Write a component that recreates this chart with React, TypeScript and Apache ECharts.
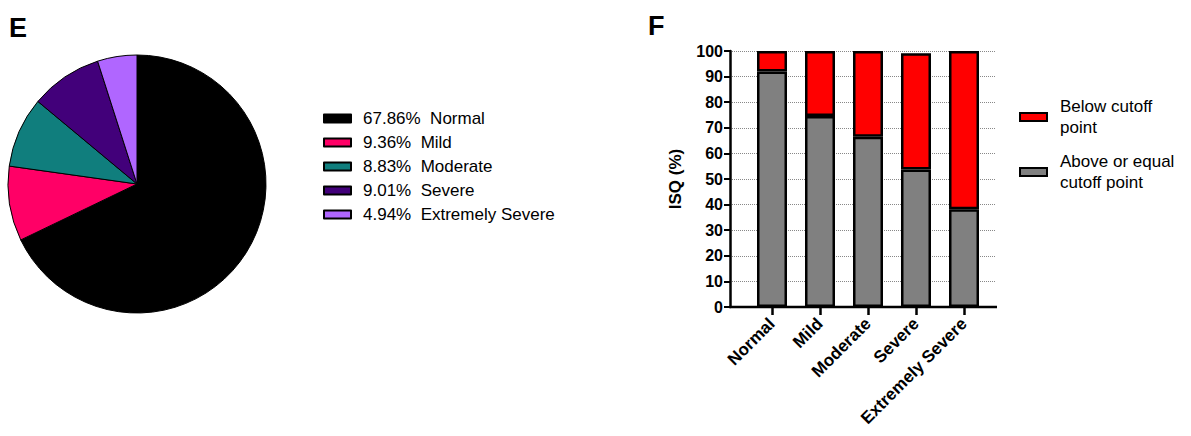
import React, { useEffect, useRef } from "react";
import * as echarts from "echarts";

const pieNames = ["Normal", "Mild", "Moderate", "Severe", "Extremely Severe"];
const pieValues = [67.86, 9.36, 8.83, 9.01, 4.94];
const pieColors = ["#000000", "#FF0066", "#107E7D", "#42007A", "#B066FF"];

const barCategories = ["Normal", "Mild", "Moderate", "Severe", "Extremely Severe"];
const aboveValues = [92, 74.6, 66.5, 53.7, 38.2];
const belowValues = [8, 25.4, 33.5, 45.4, 61.8];
const yTicks = { min: 0, max: 100, interval: 10 };

const FONT = "Arial, 'Liberation Sans', sans-serif";

export default function App() {
  const ref = useRef<HTMLDivElement>(null);
  useEffect(() => {
    document.body.style.margin = "0";
    if (!ref.current) return;
    const chart = echarts.init(ref.current, null, { renderer: "svg" });
    const pctMap: Record<string, string> = {};
    pieNames.forEach((n, i) => (pctMap[n] = pieValues[i].toFixed(2) + "%  " + n));
    chart.setOption({
      animation: false,
      backgroundColor: "#ffffff",
      textStyle: { fontFamily: FONT },
      graphic: [
        { type: "text", left: 9, top: 14, style: { text: "E", font: `bold 27px ${FONT}`, fill: "#000" } },
        { type: "text", left: 648, top: 12, style: { text: "F", font: `bold 27px ${FONT}`, fill: "#000" } },
        {
          type: "line",
          shape: { x1: 729, y1: 307, x2: 997, y2: 307 },
          style: { stroke: "#000", lineWidth: 2.5 },
          z: 10,
        },
      ],
      legend: [
        {
          data: pieNames,
          orient: "vertical",
          left: 318,
          top: 104,
          itemWidth: 27,
          itemHeight: 8,
          itemGap: 5,
          formatter: (n: string) => pctMap[n],
          textStyle: { fontSize: 17, color: "#000", fontFamily: FONT, lineHeight: 19, padding: [0, 0, 0, 7] },
          selectedMode: false,
          icon: "rect",
        },
        {
          data: ["Below cutoff point", "Above or equal cutoff point"],
          orient: "vertical",
          left: 1014,
          top: 91,
          itemWidth: 27,
          itemHeight: 8,
          itemGap: 13,
          formatter: (n: string) =>
            n === "Below cutoff point" ? "Below cutoff\npoint" : "Above or equal\ncutoff point",
          textStyle: { fontSize: 17, color: "#000", fontFamily: FONT, lineHeight: 21, padding: [0, 0, 0, 8] },
          selectedMode: false,
          icon: "rect",
        },
      ],
      grid: [
        { left: 748, right: 1191 - 988, top: 51, bottom: 436 - 307, containLabel: false },
        { left: 730, right: 1191 - 996, top: 51, bottom: 436 - 307, containLabel: false },
      ],
      xAxis: [
        {
          type: "category",
          gridIndex: 0,
          data: barCategories,
          axisLine: { show: false },
          axisTick: { show: true, alignWithLabel: true, length: 8, lineStyle: { color: "#000", width: 2.5 } },
          axisLabel: { rotate: 45, fontSize: 17, fontWeight: "bold", color: "#000", margin: 14, interval: 0, fontFamily: FONT },
        },
        { type: "value", gridIndex: 1, show: false, min: 0, max: 1 },
      ],
      yAxis: [
        {
          type: "value",
          gridIndex: 0,
          min: yTicks.min,
          max: yTicks.max,
          interval: yTicks.interval,
          offset: 18,
          name: "ISQ (%)",
          nameLocation: "middle",
          nameRotate: 90,
          nameGap: 46,
          nameTextStyle: { fontSize: 17, fontWeight: "bold", color: "#000", fontFamily: FONT },
          axisLine: { show: true, lineStyle: { color: "#000", width: 2.5 } },
          axisTick: { show: true, length: 6, lineStyle: { color: "#000", width: 2 } },
          axisLabel: { fontSize: 16, fontWeight: "bold", color: "#000", margin: 7, fontFamily: FONT },
          splitLine: { show: false },
          z: 5,
        },
        {
          type: "value",
          gridIndex: 1,
          min: yTicks.min,
          max: yTicks.max,
          interval: yTicks.interval,
          axisLine: { show: false },
          axisTick: { show: false },
          axisLabel: { show: false },
          splitLine: { show: true, lineStyle: { type: "dotted", color: "#888", width: 1 } },
          z: 0,
        },
      ],
      series: [
        {
          type: "pie",
          name: "pie",
          center: [137, 184],
          radius: 129,
          startAngle: 90,
          clockwise: true,
          label: { show: false },
          labelLine: { show: false },
          emphasis: { disabled: true },
          data: pieNames.map((n, i) => ({
            name: n,
            value: pieValues[i],
            itemStyle: { color: pieColors[i], borderColor: "#000", borderWidth: 1 },
          })),
        },
        {
          type: "bar",
          name: "Above or equal cutoff point",
          stack: "s",
          barWidth: 30,
          data: aboveValues,
          itemStyle: { color: "#808080", borderColor: "#000", borderWidth: 2.5 },
          emphasis: { disabled: true },
          z: 3,
        },
        {
          type: "bar",
          name: "Below cutoff point",
          stack: "s",
          barWidth: 30,
          data: belowValues,
          itemStyle: { color: "#FF0000", borderColor: "#000", borderWidth: 2.5 },
          emphasis: { disabled: true },
          z: 3,
        },
      ],
    });
    return () => chart.dispose();
  }, []);
  return <div ref={ref} style={{ width: 1191, height: 436 }} />;
}
